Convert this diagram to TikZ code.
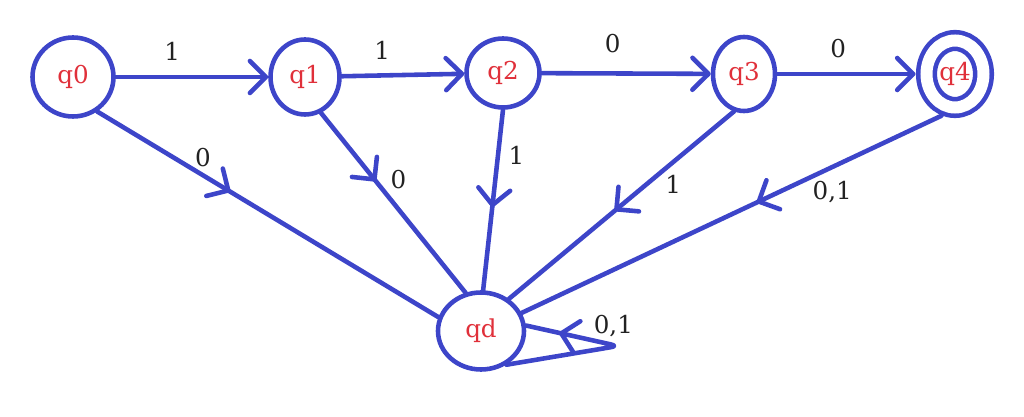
\documentclass[tikz,border=0pt]{standalone}
\usepackage{fontspec}
\setmainfont{DejaVu Serif}
\usepackage{xcolor}
\usetikzlibrary{shapes.geometric,arrows.meta,decorations.markings}
\definecolor{stateblue}{HTML}{3D45C9}
\definecolor{namered}{HTML}{E0303A}
\definecolor{symgray}{HTML}{222222}

\begin{document}
\begin{tikzpicture}[
    stnode/.style={draw=stateblue, ellipse, line width=2.6pt, inner sep=0pt,
                   text=namered, font=\fontsize{14}{16}\selectfont},
    trans/.style={draw=stateblue, line width=2.6pt, line cap=round, line join=round},
    >={Straight Barb[length=3.2mm, width=6.4mm, round]},
    midtrans/.style={trans, decoration={markings, mark=at position #1 with {\arrow{>}}},
                     postaction={decorate}},
    symlbl/.style={font=\fontsize{14}{16}\selectfont, text=symgray}
  ]
    \useasboundingbox (0,0) rectangle (20.48,8.34);

    \node[stnode, minimum width=1.62cm, minimum height=1.58cm] (q0) at (1.46,6.80) {q0};
    \node[stnode, minimum width=1.38cm, minimum height=1.50cm] (q1) at (6.10,6.80) {q1};
    \node[stnode, minimum width=1.46cm, minimum height=1.38cm] (q2) at (10.06,6.88) {q2};
    \node[stnode, minimum width=1.24cm, minimum height=1.48cm] (q3) at (14.88,6.86) {q3};
    \node[stnode, minimum width=1.14cm, minimum height=1.34cm,
          double=white, double distance=0.24cm, outer sep=0.22cm] (q4) at (19.10,6.86) {q4};
    \node[stnode, minimum width=1.72cm, minimum height=1.54cm] (qd) at (9.62,1.72) {qd};
    \coordinate (lp) at (12.36,1.42);

    \draw[trans, ->] (q0) -- node[symlbl, pos=0.37, above=0.16cm] {1} (q1);
    \draw[trans, ->] (q1) -- node[symlbl, pos=0.33, above=0.16cm] {1} (q2);
    \draw[trans, ->] (q2) -- node[symlbl, pos=0.42, above=0.24cm] {0} (q3);
    \draw[trans, ->] (q3) -- node[symlbl, pos=0.44, above=0.16cm] {0} (q4);

    \draw[midtrans=0.39] (q0.-55) -- node[symlbl, pos=0.31, above] {0} (qd.162);
    \draw[midtrans=0.38] (q1.-66) -- node[symlbl, pos=0.37, right=0.16cm] {0} (qd.112);
    \draw[midtrans=0.54] (q2.-90) -- node[symlbl, pos=0.25, right=0.05cm] {1} (qd.87);
    \draw[midtrans=0.53] (q3.-105) -- node[symlbl, pos=0.39, right=0.22cm] {1} (qd.49);
    \draw[midtrans=0.44] (q4.-108) -- node[symlbl, pos=0.26, below=0.12cm] {0,1} (qd.24);
    \draw[midtrans=0.83, rounded corners=4pt] (qd.-53) -- (lp)
      -- node[symlbl, pos=0.05, above] {0,1} (qd.7);
  \end{tikzpicture}
\end{document}
